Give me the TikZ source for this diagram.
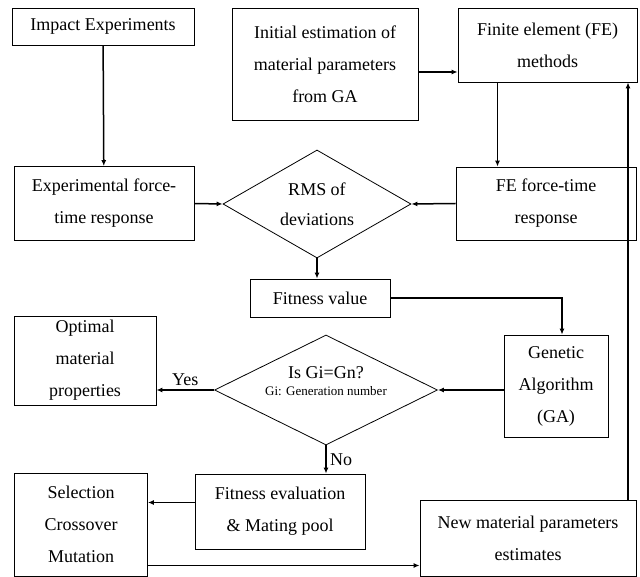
\documentclass[tikz,border=0pt]{standalone}
\usepackage{fontspec}
\setmainfont{Liberation Serif}
\usetikzlibrary{shapes.geometric, arrows.meta}

\begin{document}
\begin{tikzpicture}[x=1pt, y=-1pt,
    block/.style={rectangle, draw, line width=0.8pt, align=center, inner sep=2pt,
        font=\fontsize{18}{32}\selectfont},
    decision/.style={diamond, draw, line width=0.8pt, align=center, inner sep=0pt,
        aspect=2, font=\fontsize{18}{30}\selectfont},
    line/.style={line width=1.5pt, -{Latex[length=6pt, width=5pt]}}]
            \useasboundingbox (0, 0) rectangle (640, 577);

            %nodes
            \node[block, minimum width=182pt, minimum height=37pt] (impact) at (103, 26.5) {Impact Experiments};
            \node[block, minimum width=186pt, minimum height=112pt] (init) at (325, 64) {Initial estimation of\\material parameters\\from GA};
            \node[block, minimum width=179pt, minimum height=74pt] (femeth) at (547.5, 45) {Finite element (FE)\\methods};
            \node[block, minimum width=180pt, minimum height=74pt] (expresp) at (104, 203.5) {Experimental force-\\time response};
            \node[decision, minimum width=188pt, minimum height=108pt] (rms) at (317, 204) {RMS of\\deviations};
            \node[block, minimum width=180pt, minimum height=73pt] (feresp) at (546, 203.5) {FE force-time\\response};
            \node[block, minimum width=140pt, minimum height=38pt] (fitval) at (320, 298) {Fitness value};
            \node[block, minimum width=142pt, minimum height=89pt] (optimal) at (85, 360.5) {Optimal\\material\\properties};
            \node[decision, minimum width=223pt, minimum height=110pt] (isgi) at (326, 390) {Is Gi=Gn?\\[-13pt]{\fontsize{13}{14}\selectfont Gi: Generation number}\\[-22pt]\strut};
            \node[block, minimum width=104pt, minimum height=102pt] (ga) at (556, 386) {Genetic\\Algorithm\\(GA)};
            \node[block, minimum width=170pt, minimum height=75pt] (fiteval) at (280, 511.5) {Fitness evaluation\\\& Mating pool};
            \node[block, minimum width=133pt, minimum height=103pt] (select) at (81, 524.5) {Selection\\Crossover\\Mutation};
            \node[block, minimum width=216pt, minimum height=76pt] (newpar) at (528, 538) {New material parameters\\estimates};

            %edges
            \draw[line] (impact) -- (expresp);
            \draw[line] ([yshift=-8pt]init.east) -- ([yshift=-8pt]init.east -| femeth.west);
            \draw[line] ([xshift=-50pt]femeth.south) -- ([xshift=-50pt]femeth.south |- feresp.north);
            \draw[line] (expresp.east) -- (rms.west);
            \draw[line] (feresp.west) -- (rms.east);
            \draw[line] (rms.south) -- (rms.south |- fitval.north);
            \draw[line] (fitval.east) -| ([xshift=6pt]ga.north);
            \draw[line] (isgi.east -| ga.west) -- (isgi.east);
            \draw[line] (isgi.west) -- (isgi.west -| optimal.east) node[midway, above, font=\fontsize{18}{20}\selectfont] {Yes};
            \draw[line] (isgi.south) -- (isgi.south |- fiteval.north) node[midway, right, font=\fontsize{18}{20}\selectfont] {No};
            \draw[line] ([yshift=9pt]fiteval.west) -- ([yshift=9pt]fiteval.west -| select.east);
            \draw[line] ([yshift=-41pt]select.east) -- ([yshift=-41pt]select.east -| newpar.west);
            \draw[line] ([xshift=100pt]newpar.north) -- ([xshift=100pt]newpar.north |- femeth.south);
        \end{tikzpicture}
\end{document}
